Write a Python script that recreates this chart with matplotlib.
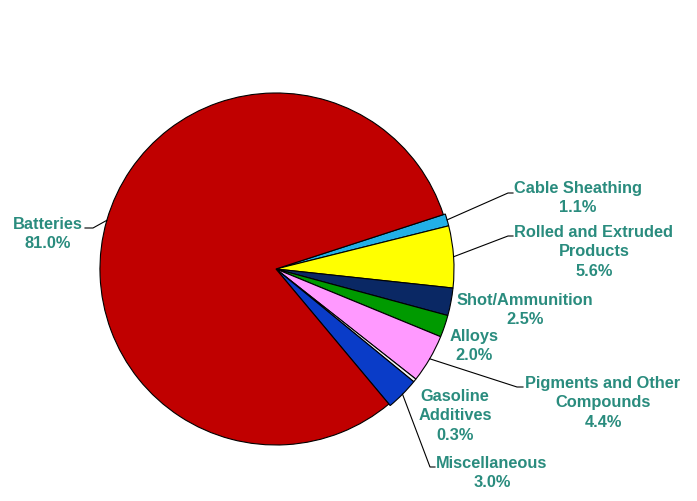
import numpy as np
import matplotlib.pyplot as plt

# lead end uses (share in percent), clockwise from the top of the small slices
labels = ["Cable Sheathing\n1.1%", "Rolled and Extruded\nProducts\n5.6%", "Shot/Ammunition\n2.5%",
          "Alloys\n2.0%", "Pigments and Other\nCompounds\n4.4%", "Gasoline\nAdditives\n0.3%",
          "Miscellaneous\n3.0%", "Batteries\n81.0%"]
values = [1.1, 5.6, 2.5, 2.0, 4.4, 0.3, 3.0, 81.0]
colors = ["#22B0E6", "#FFFF00", "#0A2864", "#009A00", "#FF99FF", "#F4F4F4", "#0A3CC8", "#C00000"]

W, H = 697, 502
cx, cy, r = 276, H - 270, 178
start = 18

fig = plt.figure(figsize=(W / 100, H / 100), dpi=100)
ax = fig.add_axes([0, 0, 1, 1])

explode = [0, 0, 0, 0, 0, 0, 0, 0.035]
wedges, _ = ax.pie(values, colors=colors, startangle=start, counterclock=False,
                   center=(cx, cy), radius=r, explode=explode,
                   wedgeprops=dict(edgecolor="black", linewidth=0.8))
# red slice a bit smaller than the others
wedges[-1].set_radius(r - 2)
ax.set_xlim(0, W)
ax.set_ylim(0, H)
ax.set_aspect("equal")
ax.axis("off")

teal = "#2A8C7E"
# text centre (px), elbow point, end point of leader (px); None = no leader
text_pos = [(578, 198), (594, 252), (525, 310), (474, 346), (603, 403), (455, 416), (492, 473), (48, 234)]
leaders = [((508, 194), (513, 194)), ((508, 237), (513, 237)), None, None,
           ((517, 388), (523, 388)), None, ((430, 468), (435, 468)), ((93, 229), (85, 229))]

total = sum(values)
acc = 0
for i, v in enumerate(values):
    mid = start - (acc + v / 2) / total * 360
    acc += v
    tx, ty = text_pos[i]
    ax.text(tx, H - ty, labels[i], ha="center", va="center", multialignment="center",
            color=teal, fontsize=11.8, fontweight="bold", family="Liberation Sans",
            linespacing=1.38)
    if leaders[i] is not None:
        w = wedges[i]
        ox, oy = w.center
        ex = ox + w.r * np.cos(np.radians(mid))
        ey = oy + w.r * np.sin(np.radians(mid))
        (x1, y1), (x2, y2) = leaders[i]
        ax.plot([ex, x1, x2], [ey, H - y1, H - y2], color="black", linewidth=0.8)

fig.savefig("out.png", dpi=100)
